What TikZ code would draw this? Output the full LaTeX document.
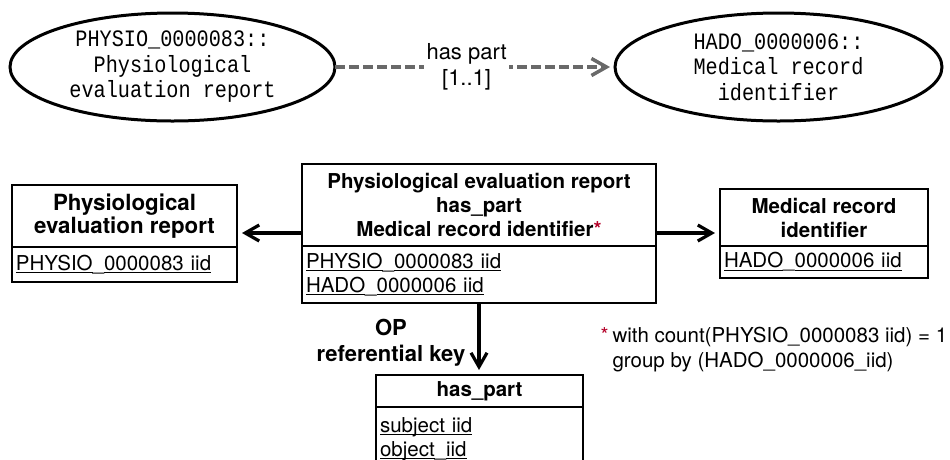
\documentclass[tikz,border=0pt]{standalone}
\usepackage{fontspec}
\setmainfont{TeX Gyre Heros}
\newfontfamily\monof[FakeStretch=0.86]{Liberation Mono}
\usetikzlibrary{arrows.meta,shapes.geometric,calc}
\definecolor{astred}{RGB}{180,0,40}
\definecolor{dashgray}{RGB}{105,105,105}
\newcommand\myul[1]{\leavevmode\setbox0\hbox{#1}\rlap{\rule[-3pt]{\wd0}{1.1pt}}\box0}
\begin{document}
\begin{tikzpicture}[x=1pt,y=-1pt,
 ell/.style={draw, line width=3pt, ellipse, inner sep=0pt, outer sep=0pt, minimum width=325pt, minimum height=108pt, align=center, font=\monof\fontsize{23.5}{25.5}\selectfont},
 hdr/.style={draw, line width=1.8pt, inner sep=0pt, outer sep=0pt, anchor=north west, align=center, font=\bfseries\fontsize{20.5}{24}\selectfont},
 bodyx/.style={draw, line width=1.8pt, inner xsep=4pt, inner ysep=0pt, outer sep=0pt, anchor=north west, align=left, font=\fontsize{20.5}{24}\selectfont},
 blk/.style={line width=3.2pt, -{Straight Barb[length=14pt,width=16pt]}, shorten >=5pt},
 gry/.style={dashgray, line width=3.5pt, dash pattern=on 10pt off 4pt, -{Straight Barb[length=15pt,width=17pt]}, shorten >=5pt},
]
\useasboundingbox (0,0) rectangle (950,459);
\clip (0,0) rectangle (950,459);

% ontology ellipses
\node[ell] (e1) at (172.5,67) {PHYSIO\_0000083::\\Physiological\\evaluation report};
\node[ell, minimum width=327pt] (e2) at (778.5,67) {HADO\_0000006::\\Medical record\\identifier};
\draw[gry] (e1) -- node[pos=0.47, fill=white, inner sep=2.5pt, align=center, text=black, font=\fontsize{22}{26}\selectfont] (lbl) {has part\\{}[1..1]} (e2);

% left table
\node[hdr, minimum width=225pt, minimum height=62pt, font=\bfseries\fontsize{22.3}{23.5}\selectfont] (lh) at (12,185) {Physiological\\evaluation report};
\node[bodyx, text width=217pt, minimum height=35pt] (lb) at (lh.south west) {\myul{PHYSIO}\_\myul{0000083 iid}};

% centre table
\node[hdr, minimum width=354pt, minimum height=82pt] (ch) at (302,164) {Physiological evaluation report\\has\_part\\Medical record identifier\textcolor{astred}{*}};
\node[bodyx, text width=346pt, minimum height=57pt] (cb) at (ch.south west) {\myul{PHYSIO}\_\myul{0000083 iid}\\\myul{HADO}\_\myul{0000006 iid}};

% right table
\node[hdr, minimum width=208pt, minimum height=57pt] (rh) at (720,189) {Medical record\\identifier};
\node[bodyx, text width=200pt, minimum height=32pt] (rb) at (rh.south west) {\myul{HADO}\_\myul{0000006 iid}};

% has_part table
\node[hdr, minimum width=207pt, minimum height=32pt] (hh) at (376,375) {has\_part};
\node[bodyx, text width=199pt, minimum height=64pt] (hb) at (hh.south west) {\myul{subject iid}\\\myul{object}\_\myul{iid}};

% connectors
\coordinate (ya) at (0,233);
\draw[blk] (ch.west |- ya) -- (lh.east |- ya);
\draw[blk] (ch.east |- ya) -- (rh.west |- ya);
\draw[blk] (cb.south) -- (cb.south |- hh.north);

\node[align=center, font=\bfseries\fontsize{22}{26}\selectfont] (op) at (391,343) {OP\\referential key};

\node[anchor=west, align=left, font=\fontsize{20.5}{25}\selectfont] (note) at (609,349.5) {\llap{\textcolor{astred}{*}\hspace{4pt}}with count(PHYSIO\_0000083 iid) = 1\\group by (HADO\_0000006\_iid)};
\end{tikzpicture}
\end{document}
